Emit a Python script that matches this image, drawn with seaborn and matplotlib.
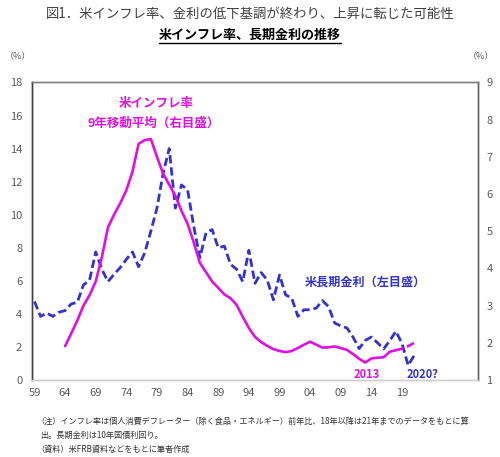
import pandas as pd
import matplotlib.pyplot as plt
import seaborn as sns
from matplotlib.lines import Line2D

# ---- data ----
bond_years = list(range(1959, 2022))
bond_yield = [4.75, 3.85, 4.05, 3.85, 4.1, 4.2, 4.6, 4.7, 5.75, 6.05,
              7.75, 6.7, 5.95, 6.4, 6.8, 7.3, 7.75, 6.85, 7.7, 9.0,
              10.4, 12.5, 14.0, 10.4, 11.8, 11.5, 9.3, 7.4, 8.9, 9.1,
              8.0, 8.1, 7.0, 6.7, 5.95, 7.85, 5.85, 6.5, 6.05, 4.85,
              6.35, 5.15, 4.95, 3.85, 4.25, 4.25, 4.35, 4.8, 4.45, 3.45,
              3.27, 3.15, 2.6, 1.9, 2.4, 2.6, 2.25, 1.88, 2.38, 2.95,
              2.2, 0.88, 1.5]

infl_years = list(range(1964, 2019))
infl_ma9 = [1.91, 2.25, 2.6, 3.0, 3.28, 3.65, 4.3, 5.1, 5.45, 5.75,
            6.1, 6.6, 7.35, 7.45, 7.48, 7.0, 6.55, 6.25, 5.95, 5.55,
            5.2, 4.7, 4.15, 3.9, 3.65, 3.48, 3.3, 3.2, 3.02, 2.7,
            2.4, 2.16, 2.02, 1.92, 1.83, 1.78, 1.75, 1.78, 1.86, 1.95,
            2.03, 1.95, 1.87, 1.88, 1.9, 1.86, 1.81, 1.7, 1.57, 1.47,
            1.58, 1.6, 1.61, 1.76, 1.8]

# 18年以降は21年までのデータをもとに算出（破線）
infl_est_years = [2018, 2019, 2020, 2021]
infl_est = [1.8, 1.84, 1.91, 2.0]

xtick_years = list(range(1959, 2020, 5))
xtick_labels = [str(y)[2:] for y in xtick_years]

MAGENTA = '#E010E0'
BLUE = '#3333CC'
GRAY = '#595959'

sns.set_theme(style="white")
plt.rcParams['font.family'] = ['Noto Sans CJK JP', 'DejaVu Sans']

fig = plt.figure(figsize=(5.0, 4.57), dpi=100)
ax = fig.add_axes([0.064, 0.1685, 0.892, 0.651])
ax2 = ax.twinx()

df_bond = pd.DataFrame({'year': bond_years, 'yield': bond_yield})
df_infl = pd.DataFrame({'year': infl_years, 'infl': infl_ma9})
df_est = pd.DataFrame({'year': infl_est_years, 'infl': infl_est})

sns.lineplot(data=df_bond, x='year', y='yield', ax=ax, color=BLUE,
             linewidth=2.0, zorder=3)
ax.lines[-1].set_dashes((3, 1.4))
sns.lineplot(data=df_infl, x='year', y='infl', ax=ax2, color=MAGENTA,
             linewidth=1.9, zorder=3)
sns.lineplot(data=df_est, x='year', y='infl', ax=ax2, color=MAGENTA,
             linewidth=1.9, zorder=3)
ax2.lines[-1].set_dashes((3, 1.4))

ax.set_xlim(1958.6, 2031.4)
ax.set_ylim(0, 18)
ax.set_yticks(range(0, 19, 2))
ax2.set_ylim(1, 9)
ax2.set_yticks(range(1, 10))
ax.set_xticks(xtick_years)
ax.set_xticklabels(xtick_labels)

for a in (ax, ax2):
    a.set_xlabel('')
    a.set_ylabel('')
    a.grid(False)
    a.tick_params(length=0, labelsize=8, labelcolor=GRAY)
ax.tick_params(axis='y', pad=7)
ax.tick_params(axis='x', pad=6)
ax2.tick_params(axis='y', pad=6)

for a in (ax, ax2):
    a.spines['left'].set_color('#404040')
    a.spines['right'].set_color('#606060')
    a.spines['top'].set_color('#808080')
    a.spines['bottom'].set_color('#d0d0d0')
    for s in a.spines.values():
        s.set_linewidth(1.0)

# ---- annotations ----
ax.text(1978.9, 16.75, '米インフレ率', color=MAGENTA, fontsize=9,
        fontweight='bold', ha='center', va='center')
ax.text(1978.4, 15.55, '9年移動平均（右目盛）', color=MAGENTA, fontsize=9,
        fontweight='bold', ha='center', va='center')
ax.text(2013.0, 5.95, '米長期金利（左目盛）', color=BLUE, fontsize=8.7,
        fontweight='bold', ha='center', va='center')
ax.text(2013.2, 0.35, '2013', color=MAGENTA, fontsize=8,
        fontweight='bold', ha='center', va='center')
ax.text(2022.3, 0.35, '2020?', color=BLUE, fontsize=8,
        fontweight='bold', ha='center', va='center')

# ---- titles, units, notes ----
fig.text(0.5, 1 - 14 / 457, '図1．米インフレ率、金利の低下基調が終わり、上昇に転じた可能性',
         ha='center', va='center', fontsize=9.6, color='#404040')
sub = fig.text(0.5, 1 - 35 / 457, '米インフレ率、長期金利の推移',
               ha='center', va='center', fontsize=9.4, fontweight='bold',
               color='black')
fig.text(18 / 500, 1 - 57 / 457, '（%）', ha='center', va='center',
         fontsize=6.5, color=GRAY)
fig.text(481 / 500, 1 - 57 / 457, '（%）', ha='center', va='center',
         fontsize=6.5, color=GRAY)

notes = ['（注）インフレ率は個人消費デフレーター（除く食品・エネルギー）前年比、18年以降は21年までのデータをもとに算',
         '出。長期金利は10年国債利回り。',
         '（資料）米FRB資料などをもとに筆者作成']
for i, line in enumerate(notes):
    x0 = 36 / 500 if i != 1 else 40 / 500
    fig.text(x0, 1 - (421 + i * 14) / 457, line, ha='left', va='center',
             fontsize=5.9, color='#333333')

# underline for the subtitle
fig.canvas.draw()
bb = sub.get_window_extent().transformed(fig.transFigure.inverted())
fig.add_artist(Line2D([bb.x0, bb.x1], [bb.y0 - 0.002, bb.y0 - 0.002],
                      transform=fig.transFigure, color='black', linewidth=1.0))

fig.savefig('out.png', dpi=100)
plt.close(fig)
